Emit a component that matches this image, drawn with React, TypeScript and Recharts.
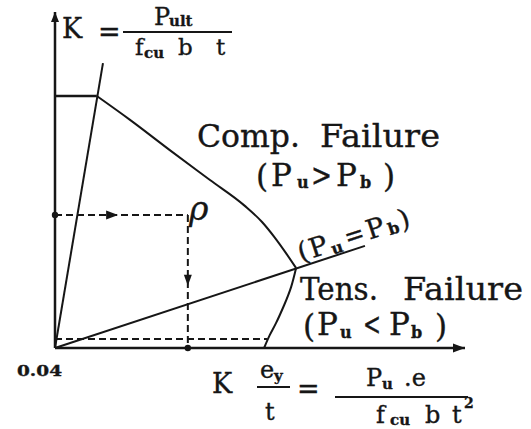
import React from 'react';
import { ComposedChart, XAxis, YAxis, Line, Scatter, Customized } from 'recharts';

const W = 531;
const H = 429;

// Axes: horizontal = K·e/t, vertical = K (normalised to 0..1)
const xAxisDomain = [0, 1];
const yAxisDomain = [0, 1];

const xAxisLine = [
  { x: 0, y: 0 },
  { x: 1, y: 0 },
];
const yAxisLine = [
  { x: 0, y: 0 },
  { x: 0, y: 1 },
];

// Interaction diagram: plateau, compression branch, tension branch
const plateau = [
  { x: 0, y: 0.75 },
  { x: 0.102, y: 0.75 },
];
const compressionBranch = [
  { x: 0.102, y: 0.75 },
  { x: 0.183, y: 0.679 },
  { x: 0.28, y: 0.589 },
  { x: 0.378, y: 0.5 },
  { x: 0.463, y: 0.423 },
  { x: 0.505, y: 0.375 },
  { x: 0.537, y: 0.327 },
  { x: 0.563, y: 0.283 },
  { x: 0.588, y: 0.238 },
];
const tensionBranch = [
  { x: 0.588, y: 0.238 },
  { x: 0.576, y: 0.182 },
  { x: 0.559, y: 0.128 },
  { x: 0.539, y: 0.074 },
  { x: 0.524, y: 0.039 },
  { x: 0.51, y: 0 },
];

// Radial eccentricity lines from the origin
const minEccentricityRay = [
  { x: 0, y: 0 },
  { x: 0.117, y: 0.848 },
];
const balancedRay = [
  { x: 0, y: 0 },
  { x: 0.756, y: 0.304 },
];

// Reading path for a given K: across to the curve, down to K·e/t
const readAcross = [
  { x: 0, y: 0.396 },
  { x: 0.324, y: 0.396 },
];
const readDown = [
  { x: 0.324, y: 0.396 },
  { x: 0.324, y: 0 },
];
const baseDashed = [
  { x: 0, y: 0.027 },
  { x: 0.517, y: 0.027 },
];

const readDots = [
  { x: 0, y: 0.396 },
  { x: 0.324, y: 0 },
];
const arrowsUp = [{ x: 0, y: 1 }];
const arrowsRight = [
  { x: 1, y: 0 },
  { x: 0.154, y: 0.396 },
];
const arrowsDown = [{ x: 0.324, y: 0.202 }];

const INK = '#161616';
const SERIF = '"DejaVu Serif", "Liberation Serif", serif';

const makeArrow = (dir: 'up' | 'right' | 'down', len: number, half: number) =>
  (props: any) => {
    const { cx, cy } = props;
    let pts = '';
    if (dir === 'up') pts = `${cx},${cy} ${cx - half},${cy + len} ${cx + half},${cy + len}`;
    if (dir === 'right') pts = `${cx},${cy} ${cx - len},${cy - half} ${cx - len},${cy + half}`;
    if (dir === 'down') pts = `${cx},${cy + len / 2} ${cx - half},${cy - len / 2} ${cx + half},${cy - len / 2}`;
    return <polygon points={pts} fill={INK} />;
  };

const dotShape = (props: any) => <circle cx={props.cx} cy={props.cy} r={3.2} fill={INK} />;

function Annotations() {
  const sub = { fontSize: 16, fontWeight: 700 } as const;
  const big = 31;
  return (
    <g fontFamily={SERIF} fill={INK} stroke={INK} strokeWidth={0.35}>
      {/* K = P_ult / (f_cu b t) */}
      <text x={62} y={38} fontSize={27}>K</text>
      <text x={98} y={41} fontSize={27}>=</text>
      <text x={154} y={25} fontSize={24}>P</text>
      <text x={169} y={26} {...sub} fontSize={15}>ult</text>
      <line x1={123} y1={32} x2={232} y2={32} stroke={INK} strokeWidth={2} />
      <text x={135} y={55} fontSize={23}>f</text>
      <text x={144} y={58} {...sub} fontSize={15}>cu</text>
      <text x={178} y={55} fontSize={23}>b</text>
      <text x={216} y={55} fontSize={23}>t</text>

      {/* Compression failure region */}
      <text x={197} y={147} fontSize={32} textLength={103} lengthAdjust="spacingAndGlyphs">Comp.</text>
      <text x={320} y={147} fontSize={32} textLength={120} lengthAdjust="spacingAndGlyphs">Failure</text>
      <text x={256} y={187} fontSize={big}>(</text>
      <text x={271} y={186} fontSize={big}>P</text>
      <text x={297} y={188} {...sub}>u</text>
      <text x={311} y={186} fontSize={big} textLength={21} lengthAdjust="spacingAndGlyphs">&gt;</text>
      <text x={336} y={186} fontSize={big}>P</text>
      <text x={360} y={188} {...sub}>b</text>
      <text x={383} y={187} fontSize={big}>)</text>

      {/* Balanced failure label along the ray */}
      <g transform="rotate(-18 301 262)">
        <text x={301} y={262} fontSize={27}>(</text>
        <text x={313} y={262} fontSize={27}>P</text>
        <text x={334} y={265} {...sub}>u</text>
        <text x={350} y={262} fontSize={27} textLength={20} lengthAdjust="spacingAndGlyphs">=</text>
        <text x={373} y={262} fontSize={27}>P</text>
        <text x={394} y={264} {...sub}>b</text>
        <text x={407} y={262} fontSize={27}>)</text>
      </g>

      {/* Tension failure region */}
      <text x={300} y={300} fontSize={31} textLength={78} lengthAdjust="spacingAndGlyphs">Tens.</text>
      <text x={403} y={300} fontSize={32} textLength={120} lengthAdjust="spacingAndGlyphs">Failure</text>
      <text x={303} y={337} fontSize={big}>(</text>
      <text x={317} y={335} fontSize={big}>P</text>
      <text x={340} y={338} {...sub}>u</text>
      <text x={363} y={335} fontSize={big} textLength={18} lengthAdjust="spacingAndGlyphs">&lt;</text>
      <text x={389} y={335} fontSize={big}>P</text>
      <text x={411} y={338} {...sub}>b</text>
      <text x={435} y={337} fontSize={big}>)</text>

      {/* Reinforcement ratio marker */}
      <text x={189} y={220} fontSize={33} fontStyle="italic">ρ</text>
      <text x={17} y={376} fontSize={15} fontWeight={700} textLength={45} lengthAdjust="spacingAndGlyphs">0.04</text>

      {/* K e/t = P_u e / (f_cu b t^2) */}
      <text x={212} y={393} fontSize={27}>K</text>
      <text x={260} y={378} fontSize={24}>e</text>
      <text x={274} y={381} {...sub} fontSize={15}>y</text>
      <line x1={257} y1={387} x2={290} y2={387} stroke={INK} strokeWidth={2} />
      <text x={265} y={420} fontSize={24}>t</text>
      <text x={297} y={398} fontSize={27}>=</text>
      <text x={366} y={386} fontSize={24}>P</text>
      <text x={382} y={389} {...sub} fontSize={15}>u</text>
      <text x={404} y={386} fontSize={24}>.e</text>
      <line x1={335} y1={397} x2={468} y2={397} stroke={INK} strokeWidth={2} />
      <text x={376} y={423} fontSize={24}>f</text>
      <text x={390} y={425} {...sub} fontSize={15}>cu</text>
      <text x={425} y={423} fontSize={24}>b</text>
      <text x={452} y={423} fontSize={24}>t</text>
      <text x={464} y={408} fontSize={14} fontWeight={700}>2</text>
    </g>
  );
}

const lineProps = {
  dataKey: 'y',
  stroke: INK,
  strokeWidth: 2,
  dot: false,
  activeDot: false,
  isAnimationActive: false,
  legendType: 'none' as const,
};

export default function App() {
  return (
    <div style={{ position: 'absolute', left: 0, top: 0, width: W, height: H, background: '#fff' }}>
      <ComposedChart width={W} height={H} margin={{ top: 12, right: 66, bottom: 81, left: 55 }}>
        <XAxis type="number" dataKey="x" domain={xAxisDomain} height={0} tick={false} tickLine={false} axisLine={false} />
        <YAxis type="number" dataKey="y" domain={yAxisDomain} width={0} tick={false} tickLine={false} axisLine={false} />
        <Line {...lineProps} data={xAxisLine} type="linear" strokeWidth={2.5} />
        <Line {...lineProps} data={yAxisLine} type="linear" strokeWidth={2.5} />
        <Line {...lineProps} data={plateau} type="linear" strokeWidth={2.5} />
        <Line {...lineProps} data={compressionBranch} type="monotone" />
        <Line {...lineProps} data={tensionBranch} type="natural" />
        <Line {...lineProps} data={minEccentricityRay} type="linear" />
        <Line {...lineProps} data={balancedRay} type="linear" />
        <Line {...lineProps} data={readAcross} type="linear" strokeDasharray="7 4" />
        <Line {...lineProps} data={readDown} type="linear" strokeDasharray="7 4" />
        <Line {...lineProps} data={baseDashed} type="linear" strokeDasharray="7 4" />
        <Scatter data={readDots} dataKey="y" shape={dotShape} isAnimationActive={false} />
        <Scatter data={arrowsUp} dataKey="y" shape={makeArrow('up', 10, 4)} isAnimationActive={false} />
        <Scatter data={arrowsRight} dataKey="y" shape={makeArrow('right', 12, 4.5)} isAnimationActive={false} />
        <Scatter data={arrowsDown} dataKey="y" shape={makeArrow('down', 11, 4)} isAnimationActive={false} />
        <Customized component={Annotations} />
      </ComposedChart>
    </div>
  );
}
